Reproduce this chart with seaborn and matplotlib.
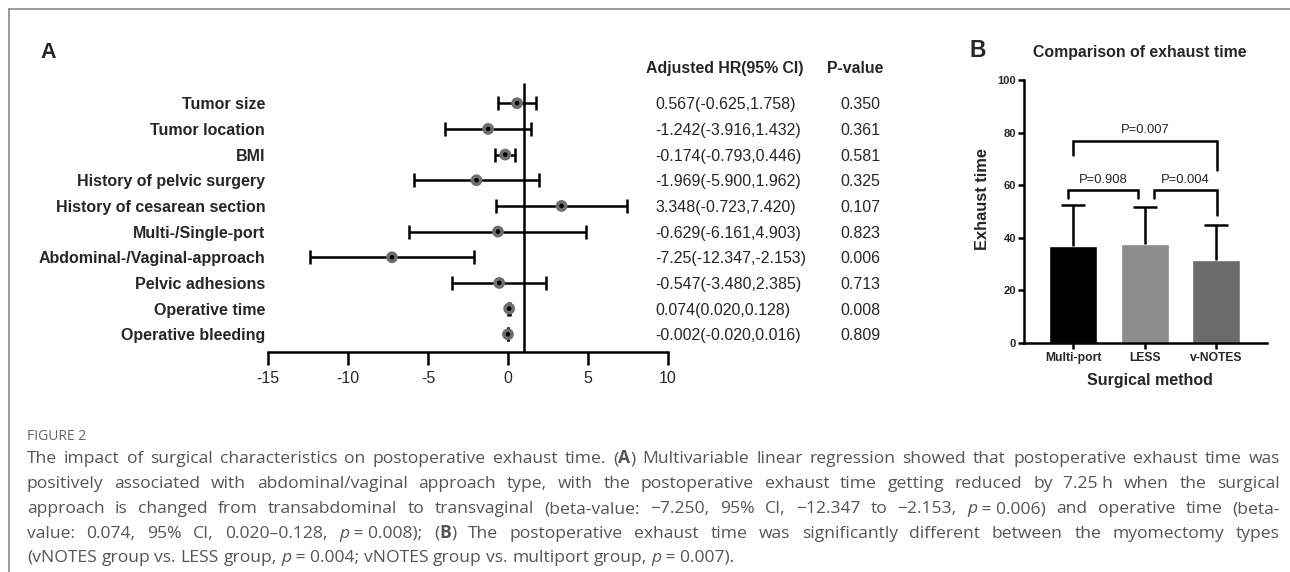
import re
import numpy as np
import pandas as pd
import matplotlib
matplotlib.use("Agg")
import matplotlib.pyplot as plt
import seaborn as sns
from matplotlib import transforms
from matplotlib.lines import Line2D

# ---------------- data ----------------
variables = ["Tumor size", "Tumor location", "BMI", "History of pelvic surgery",
             "History of cesarean section", "Multi-/Single-port",
             "Abdominal-/Vaginal-approach", "Pelvic adhesions", "Operative time",
             "Operative bleeding"]
beta = [0.567, -1.242, -0.174, -1.969, 3.348, -0.629, -7.25, -0.547, 0.074, -0.002]
ci_low = [-0.625, -3.916, -0.793, -5.900, -0.723, -6.161, -12.347, -3.480, 0.020, -0.020]
ci_high = [1.758, 1.432, 0.446, 1.962, 7.420, 4.903, -2.153, 2.385, 0.128, 0.016]
hr_text = ["0.567(-0.625,1.758)", "-1.242(-3.916,1.432)", "-0.174(-0.793,0.446)",
           "-1.969(-5.900,1.962)", "3.348(-0.723,7.420)", "-0.629(-6.161,4.903)",
           "-7.25(-12.347,-2.153)", "-0.547(-3.480,2.385)", "0.074(0.020,0.128)",
           "-0.002(-0.020,0.016)"]
p_values = ["0.350", "0.361", "0.581", "0.325", "0.107", "0.823", "0.006", "0.713",
            "0.008", "0.809"]
forest_ticks = [-15, -10, -5, 0, 5, 10]
ref_value = 1

methods = ["Multi-port", "LESS", "v-NOTES"]
exhaust_mean = [37.0, 37.5, 31.4]
exhaust_sd = [15.5, 14.3, 13.4]
bar_colors = ["#000000", "#8c8c8c", "#6b6b6b"]
bar_ticks = [0, 20, 40, 60, 80, 100]
bracket_pairs = [(0, 1), (1, 2), (0, 2)]
bracket_labels = ["P=0.908", "P=0.004", "P=0.007"]
bracket_tops = [58.2, 58.2, 76.9]
bracket_left_ends = [55.2, 55.2, 71.5]
bracket_right_ends = [55.2, 48.7, 65.8]

caption_title = "FIGURE 2"
caption_lines = [
    "The impact of surgical characteristics on postoperative exhaust time. (*A*) Multivariable linear regression showed that postoperative exhaust time was",
    "positively associated with abdominal/vaginal approach type, with the postoperative exhaust time getting reduced by 7.25~h when the surgical",
    "approach is changed from transabdominal to transvaginal (beta-value: \u22127.250, 95% CI, \u221212.347 to \u22122.153, _p_~=~0.006) and operative time (beta-",
    "value: 0.074, 95% CI, 0.020\u20130.128, _p_~=~0.008); (*B*) The postoperative exhaust time was significantly different between the myomectomy types",
    "(vNOTES group vs. LESS group, _p_~=~0.004; vNOTES group vs. multiport group, _p_~=~0.007).",
]

# ---------------- setup ----------------
sns.set_style("white")
plt.rcParams["font.family"] = ["Liberation Sans", "DejaVu Sans"]
plt.rcParams["axes.unicode_minus"] = False

W, H = 1290, 572
fig = plt.figure(figsize=(W / 100, H / 100), dpi=100)
fig.patch.set_facecolor("white")


def fx(px):
    return px / W


def fy(py):
    return 1 - py / H


LW = 1.8

# frame lines
fig.add_artist(Line2D([fx(9), 1], [fy(9), fy(9)], color="#8a8a8a", lw=1.2))
fig.add_artist(Line2D([fx(9), fx(9)], [fy(9), 0], color="#8a8a8a", lw=1.2))

# ---------------- panel A: forest plot ----------------
ax1 = fig.add_axes([fx(268), fy(352), 400 / W, (352 - 75) / H])
rows = np.arange(len(variables))
df_f = pd.DataFrame({"beta": beta, "lo": ci_low, "hi": ci_high, "row": rows})
ax1.errorbar(df_f["beta"], df_f["row"],
             xerr=[df_f["beta"] - df_f["lo"], df_f["hi"] - df_f["beta"]],
             fmt="none", ecolor="black", elinewidth=LW, capsize=4.7, capthick=LW, zorder=2)
sns.scatterplot(data=df_f, x="beta", y="row", s=72, color="#6f6f6f", edgecolor="none",
                ax=ax1, zorder=3, legend=False)
sns.scatterplot(data=df_f, x="beta", y="row", s=11, color="black", edgecolor="none",
                ax=ax1, zorder=4, legend=False)
ax1.set_xlim(forest_ticks[0], forest_ticks[-1])
ax1.set_ylim(9.69, -1.10)
ax1.plot([ref_value, ref_value], [-0.79, 9.69], color="black", lw=LW, clip_on=False,
         solid_capstyle="butt", zorder=1)
ax1.set_xticks(forest_ticks)
ax1.set_xticklabels([str(t) for t in forest_ticks])
ax1.set_yticks(rows)
ax1.set_yticklabels(variables, fontweight="bold", fontsize=11.5)
ax1.tick_params(axis="y", left=False, length=0, pad=2)
ax1.tick_params(axis="x", bottom=True, length=9.4, width=LW, labelsize=11.5, pad=4.5,
                direction="out", color="black")
for s in ["left", "top", "right"]:
    ax1.spines[s].set_visible(False)
ax1.spines["bottom"].set_linewidth(LW)
ax1.spines["bottom"].set_color("black")
ax1.set_xlabel("")
ax1.set_ylabel("")
ax1.set_facecolor("none")

trans = transforms.blended_transform_factory(fig.transFigure, ax1.transData)
for r, (t, p) in enumerate(zip(hr_text, p_values)):
    ax1.text(fx(655), r, t, transform=trans, ha="left", va="center_baseline",
             fontsize=11.5, clip_on=False)
    ax1.text(fx(840), r, p, transform=trans, ha="left", va="center_baseline",
             fontsize=11.5, clip_on=False)
ax1.text(fx(725), -1.43, "Adjusted HR(95% CI)", transform=trans, ha="center",
         va="center_baseline", fontsize=11.4, fontweight="bold", clip_on=False)
ax1.text(fx(854.7), -1.43, "P-value", transform=trans, ha="center",
         va="center_baseline", fontsize=11.4, fontweight="bold", clip_on=False)

fig.text(fx(48.5), fy(58), "A", ha="center", va="baseline", fontsize=15.5, fontweight="bold")

# ---------------- panel B: bar chart ----------------
ax2 = fig.add_axes([fx(1024), fy(343), 243 / W, (343 - 80) / H])
df_b = pd.DataFrame({"method": methods, "mean": exhaust_mean, "sd": exhaust_sd})
sns.barplot(data=df_b, x="method", y="mean", hue="method", palette=bar_colors,
            width=0.67, ax=ax2, legend=False, saturation=1, errorbar=None, zorder=2)
eb = ax2.errorbar(np.arange(len(methods)), df_b["mean"],
                  yerr=[np.zeros(len(methods)), df_b["sd"]],
                  fmt="none", ecolor="black", elinewidth=LW, capsize=8.3, capthick=LW,
                  zorder=3)
for cl in eb[1]:
    yd = np.asarray(cl.get_ydata(), dtype=float)
    if np.allclose(yd, df_b["mean"].values):
        cl.set_visible(False)
ax2.set_xlim(-0.685, 2.71)
ax2.set_ylim(bar_ticks[0], bar_ticks[-1])
ax2.set_yticks(bar_ticks)
ax2.set_yticklabels([str(t) for t in bar_ticks], fontweight="bold", fontsize=8)
ax2.set_xticks(np.arange(len(methods)))
ax2.set_xticklabels(methods, fontweight="bold", fontsize=8.7)
ax2.tick_params(axis="y", left=True, length=4.3, width=LW, pad=1.5, color="black")
ax2.tick_params(axis="x", bottom=True, length=4.3, width=LW, pad=2, color="black")
for s in ["top", "right"]:
    ax2.spines[s].set_visible(False)
for s in ["left", "bottom"]:
    ax2.spines[s].set_linewidth(LW)
    ax2.spines[s].set_color("black")
ax2.set_xlabel("")
ax2.set_ylabel("")
ax2.set_facecolor("none")

leg_offsets = [(-0.07, -0.09), (0.13, 0.01), (0.0, 0.01)]
for (i, j), lab, top, le, re_, (oi, oj) in zip(bracket_pairs, bracket_labels, bracket_tops,
                                               bracket_left_ends, bracket_right_ends,
                                               leg_offsets):
    xl, xr = i + oi, j + oj
    ax2.plot([xl, xl, xr, xr], [le, top, top, re_], color="black", lw=LW,
             solid_joinstyle="miter", clip_on=False, zorder=4)
    ax2.text((xl + xr) / 2, top + 2.8, lab, ha="center", va="baseline", fontsize=9.4)

fig.text(fx(983), fy(199), "Exhaust time", rotation=90, ha="center", va="center",
         fontsize=11.8, fontweight="bold")
fig.text(fx(1149.7), fy(385), "Surgical method", ha="center", va="baseline",
         fontsize=11.5, fontweight="bold")
fig.text(fx(1140), fy(56.7), "Comparison of exhaust time", ha="center", va="baseline",
         fontsize=11.4, fontweight="bold")
fig.text(fx(978), fy(56.7), "B", ha="center", va="baseline", fontsize=16.5,
         fontweight="bold")

# ---------------- caption ----------------
CAP_FONT = ["Open Sans", "DejaVu Sans"]
CAP_COLOR = "#555555"
fig.text(fx(27), fy(440), caption_title, ha="left", va="baseline", fontsize=10,
         color="#666666", family=CAP_FONT)

renderer = fig.canvas.get_renderer()


def parse_words(line):
    words = []
    for tok in line.split(" "):
        segs = []
        for part in re.split(r"(_[^_]+_|\*[^*]+\*)", tok):
            if not part:
                continue
            if len(part) > 2 and part[0] == "_" and part[-1] == "_":
                segs.append((part[1:-1], {"style": "italic"}))
            elif len(part) > 2 and part[0] == "*" and part[-1] == "*":
                segs.append((part[1:-1], {"weight": "bold"}))
            else:
                segs.append((part.replace("~", " "), {}))
        words.append(segs)
    return words


def measure(txt, size, props):
    t = fig.text(0, 0, txt, fontsize=size, family=CAP_FONT, **props)
    w = t.get_window_extent(renderer).width
    t.remove()
    return w


def natural_width(line, size):
    words = parse_words(line)
    sp = measure("a a", size, {}) - measure("aa", size, {})
    tot = sum(measure(s, size, p) for w in words for s, p in w)
    return tot + sp * (len(words) - 1)


x0, x1 = 27, 1280
# size chosen so that the first (full) line needs only a little extra spacing
size = 11.0
nw = natural_width(caption_lines[0], size)
size = size * (x1 - x0 - 45) / nw

baselines = [463, 488, 513, 538, 562]
for k, (line, yb) in enumerate(zip(caption_lines, baselines)):
    words = parse_words(line)
    widths = [[measure(s, size, p) for s, p in w] for w in words]
    sp = measure("a a", size, {}) - measure("aa", size, {})
    total = sum(sum(w) for w in widths)
    justify = k < len(caption_lines) - 1
    gap = (x1 - x0 - total) / (len(words) - 1) if justify else sp
    x = x0
    for w, ws in zip(words, widths):
        for (s, p), sw in zip(w, ws):
            fig.text(fx(x), fy(yb), s, ha="left", va="baseline", fontsize=size,
                     family=CAP_FONT, color=CAP_COLOR, **p)
            x += sw
        x += gap

fig.savefig("out.png", dpi=100, facecolor="white")
